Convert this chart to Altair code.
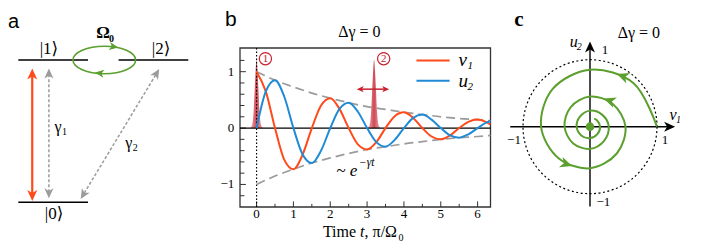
import altair as alt
import pandas as pd

# ---------------- values ----------------
# panel b / c : time series (t in units of pi/Omega0)
t = [0.0, 0.25, 0.5, 0.75, 1.0, 1.25, 1.5, 1.75, 2.0, 2.25, 2.5, 2.75, 3.0, 3.25,
     3.5, 3.75, 4.0, 4.25, 4.5, 4.75, 5.0, 5.25, 5.5, 5.75, 6.0, 6.25, 6.35]
v1 = [1.00, 0.65, 0.00, -0.56, -0.73, -0.47, 0.00, 0.40, 0.53, 0.34, 0.00, -0.29,
      -0.38, -0.25, 0.00, 0.21, 0.28, 0.18, 0.00, -0.15, -0.20, -0.13, 0.00, 0.11,
      0.15, 0.10, 0.06]
u2 = [0.00, 0.65, 0.85, 0.56, 0.00, -0.47, -0.62, -0.40, 0.00, 0.34, 0.45, 0.29,
      0.00, -0.25, -0.33, -0.21, 0.00, 0.18, 0.24, 0.15, 0.00, -0.13, -0.17, -0.11,
      0.00, 0.10, 0.12]
env_t = [0.0, 0.5, 1.0, 1.5, 2.0, 2.5, 3.0, 3.5, 4.0, 4.5, 5.0, 5.5, 6.0, 6.35]
env = [1.00, 0.85, 0.73, 0.62, 0.53, 0.45, 0.38, 0.33, 0.28, 0.24, 0.20, 0.17, 0.15, 0.13]
pulse1_t = [-0.18, -0.12, -0.08, -0.05, -0.025, 0.0, 0.025, 0.05, 0.08, 0.12, 0.18]
pulse1_h = [0.0, 0.06, 0.30, 0.70, 1.02, 1.21, 1.02, 0.70, 0.30, 0.06, 0.0]
pulse2_t = [3.01, 3.07, 3.11, 3.14, 3.165, 3.19, 3.215, 3.24, 3.27, 3.31, 3.37]
pulse2_h = [0.0, 0.06, 0.30, 0.70, 1.02, 1.21, 1.02, 0.70, 0.30, 0.06, 0.0]
b_xticks = [0, 1, 2, 3, 4, 5, 6]
b_xtick_labels = ["0", "1", "2", "3", "4", "5", "6"]
b_xminor = [0.5, 1.5, 2.5, 3.5, 4.5, 5.5]
b_yticks = [-1, 0, 1]
b_ytick_labels = ["\u22121", "0", "1"]
b_yminor = [-1.2, -0.8, -0.6, -0.4, -0.2, 0.2, 0.4, 0.6, 0.8, 1.2]
series_names = ["v", "u"]
series_subs = ["1", "2"]
# panel a : energy levels
levels_name = ["|0\u27e9", "|1\u27e9", "|2\u27e9"]
levels_x0 = [0.0, 0.0, 0.59]
levels_x1 = [0.41, 0.41, 1.0]
levels_E = [0.0, 1.0, 1.0]

# ---------------- styles ----------------
RED = "#ff4a1a"
BLUE = "#1f8bd6"
GREEN = "#5b9f2e"
GRAY = "#9b9b9b"
DARKRED = "#c8202e"
SERIF = "Liberation Serif, Times New Roman, DejaVu Serif, serif"
SANS = "Liberation Sans, Arial, DejaVu Sans, sans-serif"
HEAD = "M0,0 L0.5,1.1 L0,0.8 L-0.5,1.1 Z"          # arrow head, tip at origin, pointing up
ELL = "M-1,0 A1,0.44,0,1,1,1,0 A1,0.44,0,1,1,-1,0 Z"  # ellipse for the Rabi loop


def sc(domain, p0, p1):
    # page-pixel placement of each panel's scale
    return alt.Scale(domain=domain, range=[p0 - 8, p1 - 8], nice=False, zero=False)


XA, YA = sc([0, 1], 18.3, 188.3), sc([0, 1], 202.3, 60.0)
XB, YB = sc([-0.45, 6.35], 240.0, 490.5), sc([-1.4, 1.42], 207.0, 48.0)
XC, YC = sc([-1, 1], 523.0, 657.0), sc([-1, 1], 193.7, 59.7)

layers = []


def enc(sx, sy, x="x", y="y", x2=None, y2=None):
    e = dict(x=alt.X(x, type="quantitative", scale=sx, axis=None),
             y=alt.Y(y, type="quantitative", scale=sy, axis=None))
    if x2:
        e["x2"] = alt.X2(x2)
    if y2:
        e["y2"] = alt.Y2(y2)
    return e


def df(**cols):
    return pd.DataFrame(cols)


def rule(d, sx, sy, **kw):
    layers.append(alt.Chart(d).mark_rule(**kw).encode(**enc(sx, sy, "x", "y", "x2", "y2")))


def text(d, sx, sy, **kw):
    kw.setdefault("font", SERIF)
    layers.append(alt.Chart(d).mark_text(**kw).encode(**enc(sx, sy), text="text:N"))


def heads(d, sx, sy, L, color):
    layers.append(alt.Chart(d).mark_point(shape=HEAD, filled=True, size=(2 * L / 1.1) ** 2,
                                          color=color, opacity=1, strokeWidth=0)
                  .encode(**enc(sx, sy), angle=alt.Angle("a:Q", scale=None)))


# ======================= panel a =======================
rule(df(x=levels_x0, x2=levels_x1, y=levels_E, y2=levels_E), XA, YA, color="black", strokeWidth=1.6)
text(df(x=[0.21, 0.18, 0.84], y=[-0.08, 1.077, 1.077], text=levels_name), XA, YA,
     fontSize=17, align="center", baseline="middle")
# red arrow
rule(df(x=[0.082], x2=[0.082], y=[0.06], y2=[0.89]), XA, YA, color=RED, strokeWidth=2.2)
heads(df(x=[0.082, 0.082], y=[0.94, 0.01], a=[0, 180]), XA, YA, 11, RED)
# gray decay arrows
rule(df(x=[0.18], x2=[0.18], y=[0.07], y2=[0.89]), XA, YA, color=GRAY, strokeWidth=1.5, strokeDash=[3, 2])
heads(df(x=[0.18, 0.18], y=[0.94, 0.028], a=[0, 180]), XA, YA, 10, GRAY)
rule(df(x=[0.388], x2=[0.808], y=[0.065], y2=[0.895]), XA, YA, color=GRAY, strokeWidth=1.5, strokeDash=[3, 2])
heads(df(x=[0.829, 0.367], y=[0.937, 0.023], a=[31, 211]), XA, YA, 10, GRAY)
# Rabi loop
layers.append(alt.Chart(df(x=[0.506], y=[1.0])).mark_point(shape=ELL, size=3919, filled=False, color=GREEN,
                                                        opacity=1, strokeWidth=1.6).encode(**enc(XA, YA)))
heads(df(x=[0.588, 0.451], y=[1.088, 0.912], a=[100, 278]), XA, YA, 9, GREEN)
text(df(x=[0.498], y=[1.19], text=["\u03a9"]), XA, YA, fontSize=17, fontWeight="bold", align="center", baseline="middle")
text(df(x=[0.498], y=[1.19], text=["0"]), XA, YA, fontSize=10, fontWeight="bold", align="left", baseline="middle", dx=6, dy=6)
text(df(x=[0.234, 0.65], y=[0.53, 0.42], text=["\u03b3", "\u03b3"]), XA, YA, fontSize=16, align="center", baseline="middle")
text(df(x=[0.234, 0.65], y=[0.53, 0.42], text=["1", "2"]), XA, YA, fontSize=10, align="left", baseline="middle", dx=4, dy=5)
text(df(x=[-0.028], y=[1.225], text=["a"]), XA, YA, font=SANS, fontSize=20, align="center", baseline="alphabetic")

# ======================= panel b =======================
layers.append(alt.Chart(df(x=[-0.45], x2=[6.35], y=[-1.4], y2=[1.42])).mark_rect(filled=False, color="#333333", strokeWidth=1.3)
              .encode(**enc(XB, YB, "x", "y", "x2", "y2")))
# inward ticks
rule(df(x=b_xticks, x2=b_xticks, y=[-1.4] * 7, y2=[-1.3] * 7), XB, YB, color="#333333", strokeWidth=1)
rule(df(x=b_xminor, x2=b_xminor, y=[-1.4] * 6, y2=[-1.345] * 6), XB, YB, color="#333333", strokeWidth=1)
rule(df(x=[-0.45] * 3, x2=[-0.29] * 3, y=b_yticks, y2=b_yticks), XB, YB, color="#333333", strokeWidth=1)
rule(df(x=[-0.45] * 10, x2=[-0.33] * 10, y=b_yminor, y2=b_yminor), XB, YB, color="#333333", strokeWidth=1)
# pulses
grad = alt.Gradient(gradient="linear", x1=0, x2=1, y1=0, y2=0,
                    stops=[alt.GradientStop(color="#f1a9ab", offset=0),
                           alt.GradientStop(color="#c93543", offset=0.5),
                           alt.GradientStop(color="#f1a9ab", offset=1)])
for pt, ph in ((pulse1_t, pulse1_h), (pulse2_t, pulse2_h)):
    layers.append(alt.Chart(df(x=pt, y=ph, b=[0.0] * len(pt))).mark_area(color=grad, interpolate="monotone", opacity=0.9)
                  .encode(**enc(XB, YB, "x", "y", None, "b")))
rule(df(x=[-0.45], x2=[6.35], y=[0], y2=[0]), XB, YB, color="black", strokeWidth=1.3)
rule(df(x=[0], x2=[0], y=[-1.4], y2=[1.42]), XB, YB, color="black", strokeWidth=1.2, strokeDash=[1.5, 2])
# envelope
for sgn in (1, -1):
    layers.append(alt.Chart(df(x=env_t, y=[sgn * e for e in env])).mark_line(color=GRAY, strokeWidth=1.7,
                                                                              strokeDash=[9, 5], interpolate="monotone")
                  .encode(**enc(XB, YB)))
# curves
for vals, col in ((v1, RED), (u2, BLUE)):
    layers.append(alt.Chart(df(x=t, y=vals)).mark_line(color=col, strokeWidth=2, interpolate="monotone")
                  .encode(**enc(XB, YB)))
# circled numbers
layers.append(alt.Chart(df(x=[0.24, 3.45], y=[1.23, 1.23])).mark_point(shape="circle", size=150, filled=False,
                                                                     color=DARKRED, opacity=1, strokeWidth=1.2)
              .encode(**enc(XB, YB)))
text(df(x=[0.24, 3.45], y=[1.23, 1.23], text=["1", "2"]), XB, YB, fontSize=11, color=DARKRED, align="center", baseline="middle")
# double arrow
rule(df(x=[2.8], x2=[3.52], y=[0.69], y2=[0.69]), XB, YB, color=DARKRED, strokeWidth=1.5)
heads(df(x=[2.72, 3.6], y=[0.69, 0.69], a=[270, 90]), XB, YB, 7, DARKRED)
# legend
for yy, col in ((1.2, RED), (0.84, BLUE)):
    rule(df(x=[4.34], x2=[5.24], y=[yy], y2=[yy]), XB, YB, color=col, strokeWidth=2)
text(df(x=[5.48, 5.48], y=[1.2, 0.84], text=series_names), XB, YB, fontSize=19, fontStyle="italic", align="left", baseline="middle")
text(df(x=[5.48, 5.48], y=[1.2, 0.84], text=series_subs), XB, YB, fontSize=11, fontStyle="italic", align="left", baseline="middle", dx=9, dy=6)
# ~ e^-gamma t
text(df(x=[2.166], y=[-0.85], text=["~ e"]), XB, YB, fontSize=17, fontStyle="italic", align="left", baseline="alphabetic")
text(df(x=[2.78], y=[-0.67], text=["\u2212\u03b3t"]), XB, YB, fontSize=11.5, fontStyle="italic", align="left", baseline="alphabetic")
# tick labels
text(df(x=[-0.606] * 3, y=b_yticks, text=b_ytick_labels), XB, YB, fontSize=13, align="right", baseline="middle")
text(df(x=b_xticks, y=[-1.525] * 7, text=b_xtick_labels), XB, YB, fontSize=13, align="center", baseline="middle")
# axis title
text(df(x=[2.81], y=[-1.934], text=["Time"]), XB, YB, fontSize=16, align="right", baseline="alphabetic", dx=-4)
text(df(x=[2.81], y=[-1.934], text=["t"]), XB, YB, fontSize=16, fontStyle="italic", align="left", baseline="alphabetic")
text(df(x=[2.81], y=[-1.934], text=[", \u03c0/\u03a9"]), XB, YB, fontSize=16, align="left", baseline="alphabetic", dx=4.5)
text(df(x=[2.81], y=[-1.934], text=["0"]), XB, YB, fontSize=10, align="left", baseline="alphabetic", dx=38.5, dy=4)
text(df(x=[2.79], y=[1.70], text=["\u0394\u03b3 = 0"]), XB, YB, fontSize=16, align="center", baseline="middle")
text(df(x=[-0.70], y=[1.81], text=["b"]), XB, YB, font=SANS, fontSize=21, align="center", baseline="alphabetic")

# ======================= panel c =======================
layers.append(alt.Chart(df(x=[0], y=[0])).mark_point(shape="circle", size=17956, filled=False, color="black",
                                                  opacity=1, strokeWidth=1.2, strokeDash=[2, 2.5])
              .encode(**enc(XC, YC)))
rule(df(x=[-1.19], x2=[1.18], y=[0], y2=[0]), XC, YC, color="black", strokeWidth=1.4)
rule(df(x=[0], x2=[0], y=[-1.19], y2=[1.18]), XC, YC, color="black", strokeWidth=1.4)
heads(df(x=[1.27, 0], y=[0, 1.27], a=[90, 0]), XC, YC, 11, "black")
layers.append(alt.Chart(df(x=v1, y=u2, t=t)).mark_line(color=GREEN, strokeWidth=2, interpolate="catmull-rom")
              .encode(**enc(XC, YC), order=alt.Order("t:Q")))
layers.append(alt.Chart(df(x=[0], y=[0])).mark_point(shape="circle", size=75, filled=True, color=GREEN, opacity=1)
              .encode(**enc(XC, YC)))
heads(df(x=[0.403, 0.206, -0.267], y=[0.788, 0.422, -0.588], a=[291, 290, 109]), XC, YC, 12, GREEN)
text(df(x=[-0.243, 1.24], y=[1.264, 0.173], text=["u", "v"]), XC, YC, fontSize=16, fontStyle="italic", align="center", baseline="middle")
text(df(x=[-0.243, 1.24], y=[1.264, 0.173], text=["2", "1"]), XC, YC, fontSize=10, fontStyle="italic", align="left", baseline="middle", dx=3, dy=5)
text(df(x=[0.224, 1.12, -1.134, 0.2], y=[1.145, -0.2, -0.2, -1.12], text=["1", "1", "\u22121", "\u22121"]), XC, YC,
     fontSize=13, align="center", baseline="middle")
text(df(x=[0.73], y=[1.40], text=["\u0394\u03b3 = 0"]), XC, YC, fontSize=16, align="center", baseline="middle")
text(df(x=[-1.06], y=[1.5], text=["c"]), XC, YC, fontSize=21, fontWeight="bold", align="center", baseline="alphabetic")

chart = (alt.layer(*layers)
         .resolve_scale(x="independent", y="independent")
         .properties(width=690, height=235, autosize=alt.AutoSizeParams(type="none"), padding=0)
         .configure_view(strokeWidth=0))

chart.save("out.html", embed_options={"renderer": "svg", "actions": False})
